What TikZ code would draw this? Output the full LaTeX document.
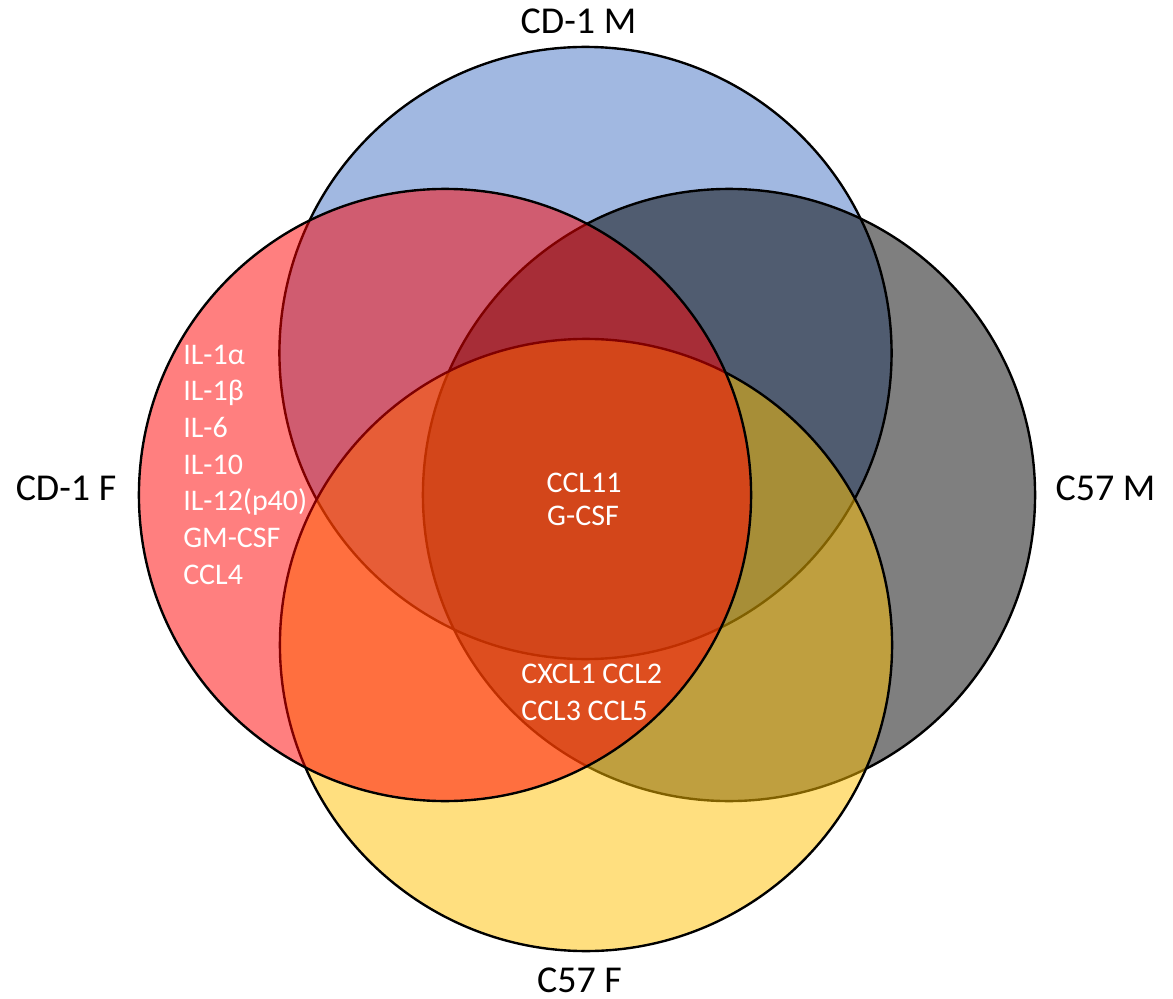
\documentclass[tikz,border=0pt]{standalone}
\usepackage{fontspec}
\setmainfont{Carlito}
\usepackage{tikz}
\usetikzlibrary{positioning}
\definecolor{cdmblue}{HTML}{4472C4}
\definecolor{cdfred}{HTML}{FF0000}
\definecolor{cfmgray}{HTML}{000000}
\definecolor{cffyellow}{HTML}{FFC000}

\begin{document}
\begin{tikzpicture}[x=0.025cm,y=-0.025cm,
	venn/.style={draw=black, line width=1.7pt, fill opacity=0.5},
	grouplabel/.style={font=\fontsize{27}{32}\selectfont, inner sep=0pt, anchor=base},
	genelabel/.style={font=\fontsize{21.3}{26}\selectfont, text=white, inner sep=0pt}]
				\useasboundingbox (0,0) rectangle (1173,999);
				
				%centres
				\coordinate (cdm) at (585.5,353);
				\coordinate (cfm) at (729,495);
				\coordinate (cff) at (586,645);
				\coordinate (cdf) at (445,495);
				
				%circles
				\draw[venn, fill=cdmblue] (cdm) circle [radius=7.65cm];
				\draw[venn, fill=cfmgray] (cfm) circle [radius=7.65cm];
				\draw[venn, fill=cffyellow] (cff) circle [radius=7.65cm];
				\draw[venn, fill=cdfred] (cdf) circle [radius=7.65cm];
				
				%group labels
				\node[grouplabel] (cdmlabel) at (578.5,34) {CD-1 M};
				\node[grouplabel] (cdflabel) at (66,500) {CD-1 F};
				\node[grouplabel] (cfmlabel) at (1105.5,500) {C57 M};
				\node[grouplabel] (cfflabel) at (579.5,992) {C57 F};
				
				%genes
				\foreach \gene [count=\i] in {IL-1α, IL-1β, IL-6, IL-10, IL-12(p40), GM-CSF, CCL4}
					\node[genelabel, anchor=base west] (cdfgene\i) at (183,364+36.7*\i-36.7) {\gene};
				\node[genelabel, anchor=base] (core1) at (584,492) {CCL11};
				\node[genelabel, anchor=base] (core2) at (583,525) {G-CSF};
				\node[genelabel, anchor=base west] (shared1) at (521,683) {CXCL1 CCL2};
				\node[genelabel, anchor=base west] (shared2) at (521,720) {CCL3 CCL5};
\end{tikzpicture}
\end{document}
